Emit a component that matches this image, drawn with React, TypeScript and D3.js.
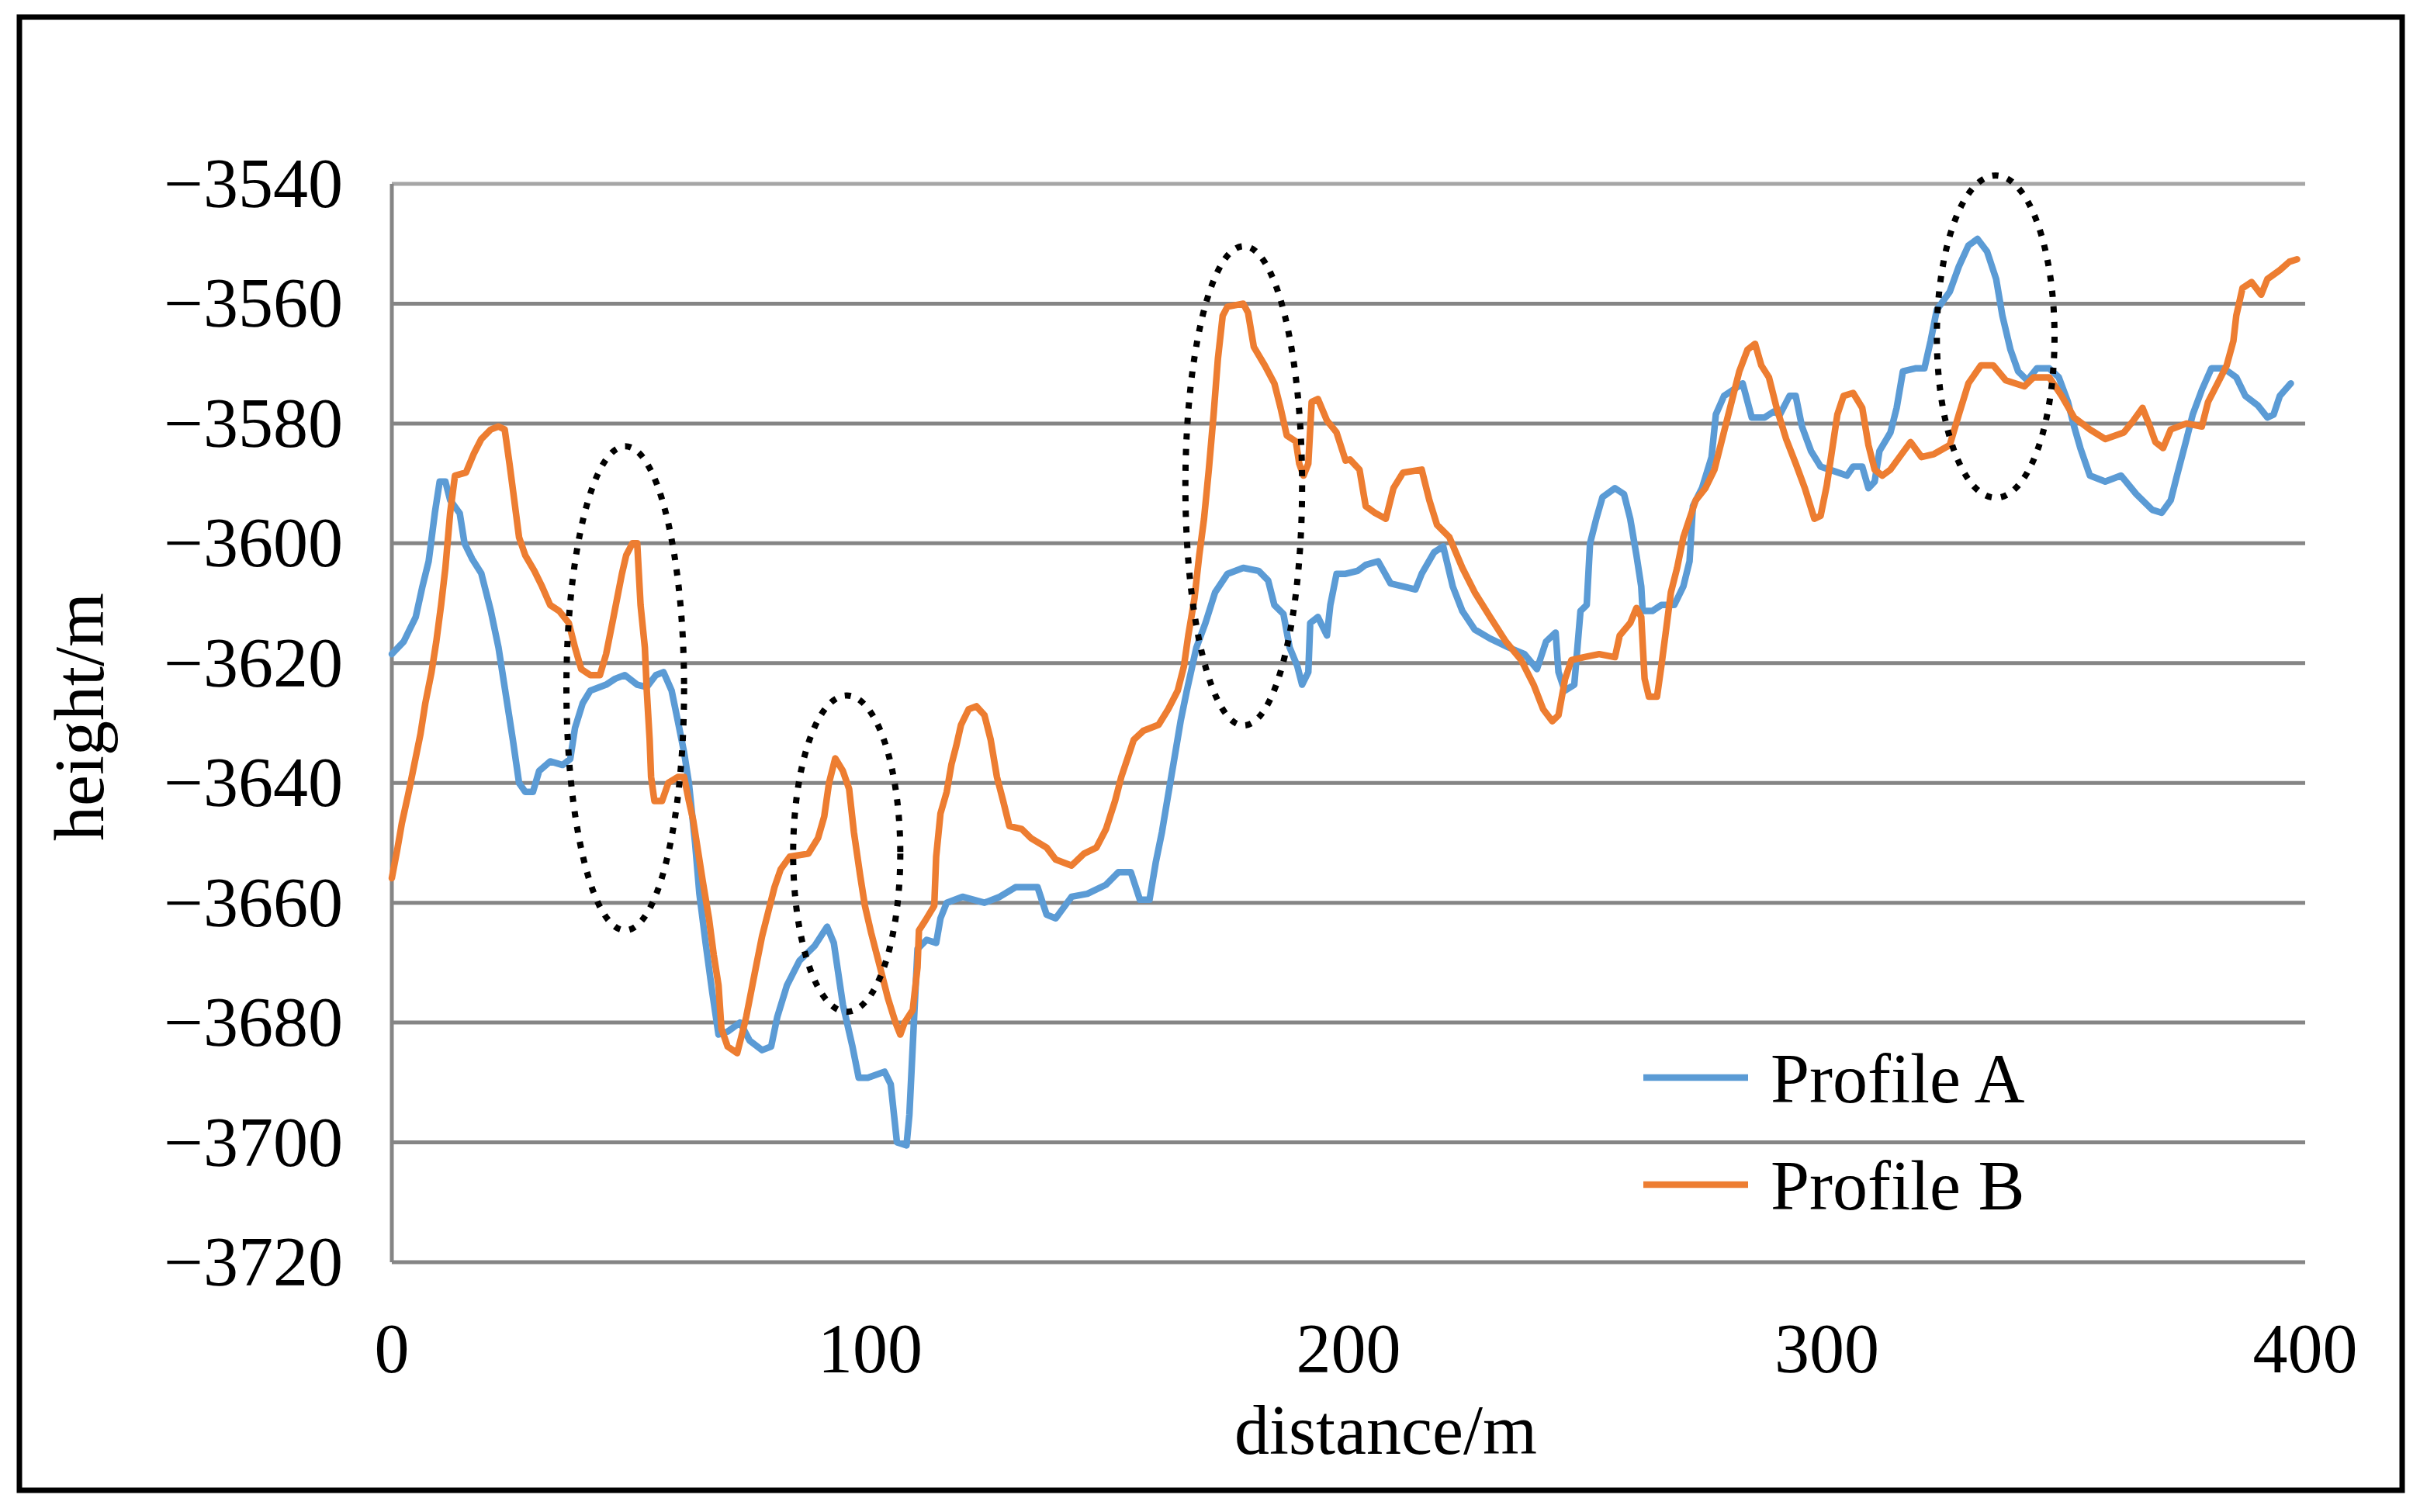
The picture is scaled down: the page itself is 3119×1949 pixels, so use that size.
import { useRef, useEffect } from 'react';
import * as d3 from 'd3';

type Pt = [number, number];

// distance (m), height (m)
const profileA: Pt[] = [
  [0, -3618.5], [2.5, -3616.4], [5, -3612.3], [6.4, -3607.2], [7.7, -3603], [9, -3594.9], [10, -3589.7], [11.2, -3589.7],
  [12.2, -3592.8], [14.2, -3595], [15.2, -3600], [16.8, -3602.6], [18.7, -3605], [20.7, -3611.3], [22.3, -3617.4],
  [23.9, -3625.6], [25.3, -3632.8], [26.6, -3640], [27.9, -3641.5], [29.5, -3641.5], [30.8, -3638], [33.1, -3636.4],
  [35.7, -3637], [37.3, -3636], [38.3, -3630.8], [39.9, -3626.7], [41.5, -3624.6], [44.8, -3623.6], [46.7, -3622.6],
  [48.7, -3622], [51.3, -3623.6], [53.3, -3624], [55.2, -3622], [56.8, -3621.5], [58.5, -3624.6], [59.8, -3629.7],
  [61.1, -3634.9], [62.1, -3640], [63.4, -3650], [64.3, -3658.5], [65.6, -3666.7], [67, -3675], [68.3, -3682],
  [70.2, -3681.5], [72.8, -3680], [74.8, -3683], [77.4, -3684.6], [79.3, -3684], [80.6, -3679], [82.6, -3673.8],
  [85.2, -3669.7], [88.4, -3667.2], [91, -3664], [92.4, -3666.7], [94.3, -3677], [96.3, -3684], [97.6, -3689.2],
  [99.5, -3689.2], [103, -3688.2], [104.3, -3690.3], [105.6, -3700], [107.6, -3700.5], [108.2, -3695.4], [109.2, -3679],
  [109.9, -3667.7], [111.8, -3666.2], [113.8, -3666.7], [114.7, -3662.6], [116, -3660], [119.3, -3659], [123.9, -3660],
  [127.1, -3659], [130.4, -3657.4], [135, -3657.4], [136.9, -3662], [138.8, -3662.6], [142.1, -3659], [145.4, -3658.5],
  [149.3, -3657], [151.9, -3654.9], [154.5, -3654.9], [156.4, -3659.5], [158.4, -3659.5], [159.7, -3653.3], [161, -3648.2],
  [162.3, -3642], [163.6, -3635.9], [164.9, -3629.7], [166.2, -3624.6], [168.2, -3617.4], [170.1, -3613.3], [172.1, -3608.2],
  [174.7, -3605.1], [178, -3604.1], [181.2, -3604.6], [183.2, -3606.2], [184.5, -3610.3], [186.4, -3611.8], [187.7, -3617.4],
  [189.3, -3620.5], [190.3, -3623.6], [191.6, -3621.5], [192, -3613.3], [193.6, -3612.3], [195.5, -3615.4], [196.2, -3610.3],
  [197.5, -3605.1], [199.4, -3605.1], [201.9, -3604.6], [203.6, -3603.6], [206.2, -3603], [208.8, -3606.7], [211.4, -3607.2],
  [214, -3607.7], [215.3, -3605.1], [217.9, -3601.5], [219.8, -3600.5], [221.8, -3607.2], [223.8, -3611.3], [226.4, -3614.4],
  [229.6, -3615.9], [233.5, -3617.4], [236.8, -3618.5], [239.4, -3621], [241.3, -3616.4], [243.3, -3614.9], [243.9, -3621.5],
  [245.2, -3624.6], [247.2, -3623.6], [248.5, -3611.3], [249.8, -3610.3], [250.5, -3600], [251.8, -3595.9], [253.1, -3592.3],
  [255.7, -3590.8], [257.6, -3591.8], [258.9, -3595.9], [260.2, -3602], [261.2, -3607.2], [261.5, -3611.3], [263.5, -3611.3],
  [265.4, -3610.3], [268.1, -3610.3], [270, -3607.2], [271.3, -3603], [272, -3593.8], [273.9, -3590.8], [275.9, -3585.6],
  [276.8, -3578.5], [278.5, -3575.4], [280.4, -3574.4], [282.4, -3573.3], [284.3, -3579], [287, -3579], [288.9, -3578],
  [290.2, -3578.5], [292.2, -3575.4], [293.5, -3575.4], [294.8, -3580.5], [296.7, -3584.6], [298.7, -3587.2], [300.6, -3587.7],
  [304.2, -3588.7], [305.5, -3587.2], [307.4, -3587.2], [308.7, -3590.8], [310, -3589.7], [311, -3584.6], [313.3, -3581.5],
  [314.6, -3577.4], [315.9, -3571.3], [318.5, -3570.8], [320.4, -3570.8], [321.7, -3566.2], [323, -3561], [325.7, -3558],
  [327.6, -3553.8], [329.6, -3550.3], [331.5, -3549.2], [333.5, -3551.3], [335.4, -3555.9], [336.7, -3562], [338.4, -3567.7],
  [340, -3571.3], [341.9, -3572.8], [343.9, -3570.8], [346.5, -3570.8], [348.5, -3572.3], [350.4, -3576.4], [351.7, -3580.5],
  [353, -3584.1], [355, -3588.7], [358.2, -3589.7], [361.5, -3588.7], [364.7, -3591.8], [368, -3594.4], [370, -3594.9],
  [371.9, -3592.8], [373.2, -3588.7], [375.2, -3582.6], [376.5, -3578.5], [378.4, -3574.4], [380.4, -3570.8], [383, -3570.8],
  [385.6, -3572.3], [387.5, -3575.4], [390.1, -3577], [392.1, -3579], [393.4, -3578.5], [394.7, -3575.4], [397, -3573.3],
];

const profileB: Pt[] = [
  [0, -3655.9], [1.1, -3651.3], [2.1, -3646.7], [3.4, -3642], [4.7, -3636.9], [6, -3631.8], [7, -3626.7], [8.3, -3621.5],
  [9.3, -3616.4], [10.3, -3610.3], [11.2, -3604.1], [12.2, -3594.9], [13.2, -3588.7], [15.5, -3588.2], [17.1, -3585.1],
  [18.7, -3582.6], [20.7, -3581], [22.3, -3580.5], [23.6, -3581], [24.6, -3586.7], [25.6, -3592.8], [26.6, -3599],
  [27.9, -3602], [29.8, -3604.6], [31.4, -3607.2], [33.1, -3610.3], [35, -3611.3], [37, -3613.3], [38.3, -3617.4],
  [39.6, -3621], [41.5, -3622], [43.5, -3622], [44.8, -3618.5], [46.1, -3613.3], [47.1, -3609.2], [48.1, -3605.1],
  [49, -3602], [50.3, -3600], [51.3, -3600], [52, -3610.3], [52.9, -3617.4], [53.3, -3624.6], [53.9, -3632.8],
  [54.2, -3639], [54.9, -3643], [56.5, -3643], [57.8, -3640], [59.8, -3639], [61.1, -3639], [62.1, -3643], [63, -3646.2],
  [64, -3651.3], [65, -3656.4], [66.3, -3662.6], [67.3, -3668.7], [68.3, -3673.8], [68.9, -3681], [70.2, -3684],
  [72.2, -3685.1], [73.5, -3681], [74.1, -3679], [75.1, -3674.9], [76.1, -3670.8], [77.4, -3665.6], [78.7, -3661.5],
  [80, -3657.4], [81.3, -3654.4], [83.2, -3652.3], [87.1, -3651.8], [89.1, -3649.2], [90.4, -3645.6], [91.4, -3640],
  [92.7, -3635.9], [94.3, -3638], [95.6, -3641], [96.6, -3648.2], [97.9, -3655.4], [98.9, -3660.5], [100.2, -3665],
  [102.4, -3671.8], [103.7, -3675.9], [105.3, -3680], [106.3, -3682], [107.2, -3680], [108.9, -3677.9], [109.9, -3670.8],
  [110.2, -3664.6], [111.5, -3663], [113.4, -3660.5], [113.8, -3652.3], [114.7, -3645.1], [116, -3641.5], [117, -3636.9],
  [118, -3633.8], [119, -3630.3], [120.6, -3627.7], [122.2, -3627.2], [123.9, -3628.7], [125.2, -3632.8], [126.5, -3639],
  [127.8, -3643], [129.1, -3647.2], [131.7, -3647.7], [133.6, -3649.2], [136.9, -3650.8], [138.8, -3652.8], [142.1, -3653.8],
  [144.7, -3651.8], [147.3, -3650.8], [149.3, -3647.7], [151.2, -3643], [152.5, -3639], [153.8, -3635.9], [155.1, -3632.8],
  [157.1, -3631.3], [160.3, -3630.3], [162.3, -3627.7], [164.3, -3624.6], [165.6, -3620.5], [166.5, -3615.4], [167.8, -3609.2],
  [168.8, -3602], [169.8, -3595.9], [170.8, -3587.7], [171.8, -3578.5], [172.7, -3569.2], [173.7, -3562], [174.7, -3560.5],
  [178, -3560], [179, -3561.5], [180.2, -3567.2], [182.5, -3570.3], [184.5, -3573.3], [185.8, -3577.4], [187.1, -3582],
  [189, -3583], [189.7, -3586.7], [190.6, -3588.7], [191.6, -3586.7], [192.3, -3576.4], [193.6, -3575.9], [195.5, -3579.5],
  [197.5, -3581.5], [199.4, -3586.2], [200.3, -3586], [202.3, -3587.7], [203.6, -3593.8], [205.5, -3594.9], [207.8, -3595.9],
  [209.4, -3590.8], [211.4, -3588.2], [215.3, -3587.7], [216.9, -3592.8], [218.5, -3596.9], [221.1, -3599], [223.8, -3604.1],
  [226.4, -3608.2], [229.6, -3612.3], [232.9, -3616.4], [236.1, -3619.5], [238.7, -3623.6], [240.7, -3627.7], [242.6, -3629.7],
  [243.9, -3628.7], [245.3, -3622.6], [246.6, -3619.5], [249.2, -3619], [252.4, -3618.5], [255.7, -3619], [256.7, -3615.4],
  [258.9, -3613.3], [260.2, -3610.8], [261.2, -3612.3], [261.9, -3622.6], [262.8, -3625.6], [264.5, -3625.6], [265.4, -3620.5],
  [266.4, -3614.4], [267.4, -3608.2], [268.7, -3604.1], [270, -3599], [271.3, -3595.9], [272.6, -3592.8], [274.6, -3590.8],
  [276.5, -3587.7], [277.8, -3583.6], [279.1, -3579.5], [280.4, -3575.4], [281.7, -3571.3], [283.4, -3567.7], [285, -3566.7],
  [286.3, -3570.3], [287.9, -3572.3], [289.5, -3577.4], [291.5, -3582.6], [293.5, -3586.7], [295.4, -3590.8], [297.4, -3595.9],
  [298.7, -3595.4], [300, -3590.3], [302.2, -3578.5], [303.5, -3575.4], [305.5, -3574.9], [307.4, -3577.4], [308.7, -3583.6],
  [310, -3587.7], [311.6, -3588.7], [313.3, -3587.7], [315.2, -3585.6], [317.5, -3583.1], [319.8, -3585.6], [322.4, -3585.1],
  [325.7, -3583.6], [327.6, -3578.5], [329.6, -3573.3], [332.2, -3570.3], [334.8, -3570.3], [337.4, -3572.8], [341.3, -3573.8],
  [343.2, -3572.3], [346.5, -3572.3], [349.1, -3575.4], [351.7, -3579], [355, -3581], [358.2, -3582.6], [362.1, -3581.5],
  [364.1, -3579.5], [366, -3577.4], [367.3, -3580], [368.7, -3583.1], [370.3, -3584.1], [371.9, -3581], [375.2, -3580],
  [378.4, -3580.5], [379.7, -3576.4], [381.7, -3573.3], [383.6, -3570.3], [385, -3566.2], [385.6, -3562], [386.9, -3557.4],
  [388.8, -3556.4], [390.8, -3558.5], [392.1, -3555.9], [394.7, -3554.4], [396.7, -3553], [398.3, -3552.6],
];

const xTicks = [0, 100, 200, 300, 400];
const yTicks = [-3540, -3560, -3580, -3600, -3620, -3640, -3660, -3680, -3700, -3720];

// dotted highlight ellipses: centre distance, centre height, half-width (m), half-height (m)
const highlights = [
  { cx: 48.8, cy: -3624.2, rx: 12.3, ry: 40.4 },
  { cx: 95.1, cy: -3651.8, rx: 11.2, ry: 26.4 },
  { cx: 178.1, cy: -3590.4, rx: 12.2, ry: 40 },
  { cx: 335.3, cy: -3565.5, rx: 12.3, ry: 26.9 },
];

const series = [
  { name: 'Profile A', data: profileA, color: '#5B9BD5' },
  { name: 'Profile B', data: profileB, color: '#ED7D31' },
];

const W = 3119;
const H = 1949;
const FONT = '"Liberation Serif", "Times New Roman", serif';

const App = () => {
  const svgRef = useRef<SVGSVGElement>(null);

  useEffect(() => {
    const svg = d3.select(svgRef.current);
    svg.selectAll('*').remove();

    const x = d3.scaleLinear().domain([0, 400]).range([505, 2971]);
    const y = d3.scaleLinear().domain([-3720, -3540]).range([1627, 237]);

    svg.append('rect').attr('width', W).attr('height', H).attr('fill', '#fff');

    // outer frame
    svg.append('rect')
      .attr('x', 25).attr('y', 22)
      .attr('width', 3071).attr('height', 1899)
      .attr('fill', 'none').attr('stroke', '#000').attr('stroke-width', 7);

    // gridlines
    svg.append('g')
      .selectAll('line')
      .data(yTicks)
      .enter()
      .append('line')
      .attr('x1', x(0)).attr('x2', x(400))
      .attr('y1', d => y(d)).attr('y2', d => y(d))
      .attr('stroke', d => (d === -3540 ? '#a6a6a6' : '#858585'))
      .attr('stroke-width', 5);

    // vertical axis line
    svg.append('line')
      .attr('x1', x(0)).attr('x2', x(0))
      .attr('y1', y(-3540)).attr('y2', y(-3720))
      .attr('stroke', '#858585').attr('stroke-width', 5);

    // y tick labels
    svg.append('g')
      .selectAll('text')
      .data(yTicks)
      .enter()
      .append('text')
      .attr('x', 442)
      .attr('y', d => y(d) + 30)
      .attr('text-anchor', 'end')
      .attr('font-family', FONT)
      .attr('font-size', 90)
      .attr('fill', '#000')
      .text(d => '\u2212' + Math.abs(d));

    // x tick labels
    svg.append('g')
      .selectAll('text')
      .data(xTicks)
      .enter()
      .append('text')
      .attr('x', d => x(d))
      .attr('y', 1769)
      .attr('text-anchor', 'middle')
      .attr('font-family', FONT)
      .attr('font-size', 90)
      .attr('fill', '#000')
      .text(d => String(d));

    // axis titles
    svg.append('text')
      .attr('x', 1786).attr('y', 1874)
      .attr('text-anchor', 'middle')
      .attr('font-family', FONT).attr('font-size', 90)
      .text('distance/m');

    svg.append('text')
      .attr('transform', 'translate(133, 924) rotate(-90)')
      .attr('text-anchor', 'middle')
      .attr('font-family', FONT).attr('font-size', 90)
      .text('height/m');

    // profile lines
    const line = d3.line<Pt>()
      .x(d => x(d[0]))
      .y(d => y(d[1]));

    svg.append('g')
      .selectAll('path')
      .data(series)
      .enter()
      .append('path')
      .attr('d', d => line(d.data) as string)
      .attr('fill', 'none')
      .attr('stroke', d => d.color)
      .attr('stroke-width', 8.5)
      .attr('stroke-linejoin', 'round')
      .attr('stroke-linecap', 'round');

    // dotted ellipses
    svg.append('g')
      .selectAll('ellipse')
      .data(highlights)
      .enter()
      .append('ellipse')
      .attr('cx', d => x(d.cx))
      .attr('cy', d => y(d.cy))
      .attr('rx', d => x(d.rx) - x(0))
      .attr('ry', d => y(-3720) - y(-3720 + d.ry))
      .attr('fill', 'none')
      .attr('stroke', '#000')
      .attr('stroke-width', 8)
      .attr('stroke-dasharray', '8 12');

    // legend
    const legend = svg.append('g')
      .selectAll('g')
      .data(series)
      .enter()
      .append('g')
      .attr('transform', (_d, i) => `translate(0, ${1389 + i * 138})`);

    legend.append('line')
      .attr('x1', 2118).attr('x2', 2253)
      .attr('y1', 0).attr('y2', 0)
      .attr('stroke', d => d.color)
      .attr('stroke-width', 8.5);

    legend.append('text')
      .attr('x', 2282).attr('y', 32)
      .attr('font-family', FONT).attr('font-size', 90)
      .attr('fill', '#000')
      .text(d => d.name);
  }, []);

  return (
    <svg
      ref={svgRef}
      width={W}
      height={H}
      style={{ position: 'absolute', left: 0, top: 0, display: 'block' }}
    ></svg>
  );
};

export default App;
